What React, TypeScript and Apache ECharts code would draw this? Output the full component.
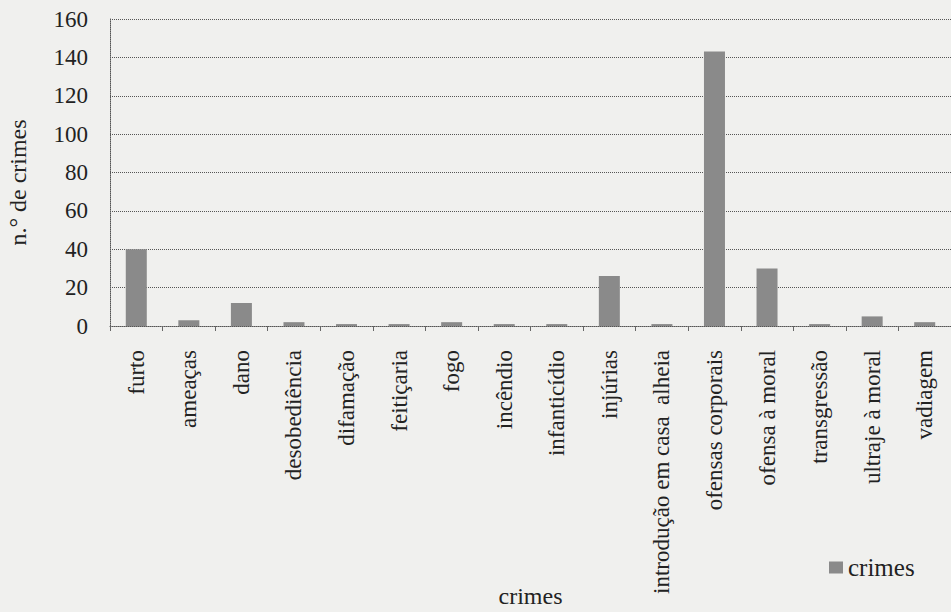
import React, { useEffect, useRef } from "react";
import * as echarts from "echarts";

const categories = [
  "furto",
  "ameaças",
  "dano",
  "desobediência",
  "difamação",
  "feitiçaria",
  "fogo",
  "incêndio",
  "infanticídio",
  "injúrias",
  "introdução em casa  alheia",
  "ofensas corporais",
  "ofensa à moral",
  "transgressão",
  "ultraje à moral",
  "vadiagem",
];
const crimes = [40, 3, 12, 2, 1, 1, 2, 1, 1, 26, 1, 143, 30, 1, 5, 2];
const yTicks = { min: 0, max: 160, interval: 20 };

const FONT = "'Times New Roman', Tinos, 'Liberation Serif', Times, serif";

export default function App() {
  const ref = useRef<HTMLDivElement>(null);
  useEffect(() => {
    if (!ref.current) return;
    const chart = echarts.init(ref.current, null, { renderer: "svg" });
    chart.setOption({
      animation: false,
      backgroundColor: "#f0f0ee",
      textStyle: { fontFamily: FONT, color: "#222" },
      grid: {
        left: 110,
        right: 0,
        top: 19,
        bottom: 286,
        containLabel: false,
        outerBoundsMode: "none",
      },
      legend: {
        show: true,
        data: ["crimes"],
        left: 824,
        top: 550,
        icon: "rect",
        itemWidth: 14,
        itemHeight: 12,
        itemGap: 4,
        textStyle: { fontFamily: FONT, fontSize: 25, color: "#222" },
      },
      xAxis: {
        type: "category",
        data: categories,
        name: "crimes",
        nameLocation: "middle",
        nameGap: 258,
        nameMoveOverlap: false,
        nameTextStyle: { fontFamily: FONT, fontSize: 24, color: "#222" },
        axisLine: { show: true, lineStyle: { color: "#555", type: "dotted", width: 1 } },
        axisTick: { show: true, length: 5, lineStyle: { color: "#666" } },
        axisLabel: {
          rotate: 90,
          margin: 24,
          fontFamily: FONT,
          fontSize: 23,
          color: "#222",
          interval: 0,
        },
      },
      yAxis: {
        type: "value",
        min: yTicks.min,
        max: yTicks.max,
        interval: yTicks.interval,
        name: "n.° de crimes",
        nameLocation: "middle",
        nameGap: 80,
        nameRotate: 90,
        nameMoveOverlap: false,
        nameTextStyle: { fontFamily: FONT, fontSize: 24, color: "#222", padding: [0, 20, 0, 0] },
        axisLine: { show: true, lineStyle: { color: "#555", type: "dotted", width: 1 } },
        axisTick: { show: false },
        axisLabel: { margin: 22, fontFamily: FONT, fontSize: 23, color: "#222" },
        splitLine: { show: true, lineStyle: { color: "#555", type: "dotted", width: 1 } },
      },
      series: [
        {
          name: "crimes",
          type: "bar",
          data: crimes,
          barWidth: 21,
          itemStyle: { color: "#8a8a8a" },
        },
      ],
    });
    return () => chart.dispose();
  }, []);
  return (
    <div
      ref={ref}
      style={{ position: "fixed", left: 0, top: 0, width: 951, height: 612 }}
    />
  );
}
